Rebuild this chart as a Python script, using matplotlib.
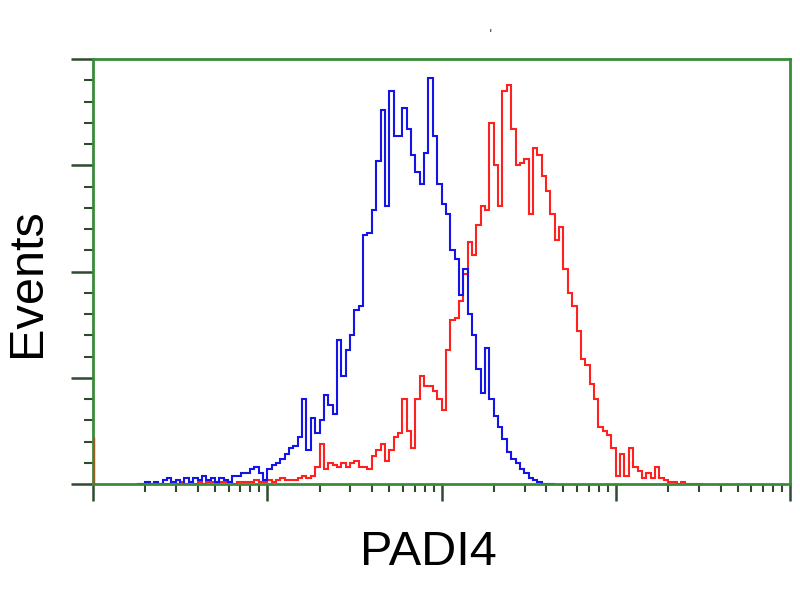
import numpy as np
import matplotlib
matplotlib.use("Agg")
import matplotlib.pyplot as plt
from matplotlib.ticker import LogLocator, MultipleLocator, NullFormatter

# histogram channels: log10 start and width of each bin (1/40 decade)
log_start, log_step = 0.25, 0.025

# counts per channel
blue_counts = [
    0, 0, 1, 0, 1, 0, 2, 3, 1, 2, 0, 3, 1, 3, 2, 4, 2, 3, 1, 3,
    2, 1, 4, 4, 5, 5, 7, 8, 5, 2, 7, 9, 10, 12, 14, 17, 18, 22, 40, 16,
    31, 24, 30, 42, 37, 33, 68, 51, 63, 70, 82, 84, 117, 118, 129, 152, 176, 131, 185, 164,
    164, 177, 167, 155, 147, 141, 156, 191, 164, 141, 132, 127, 110, 106, 89, 101, 80, 70, 54, 43,
    64, 40, 32, 27, 21, 15, 12, 10, 7, 5, 3, 2, 1, 0, 0, 0,
]
red_counts = [
    0, 0, 0, 0, 0, 0, 0, 0, 1, 0, 1, 0, 1, 0, 1, 0, 1, 1, 0, 1,
    1, 1, 0, 1, 1, 1, 1, 2, 1, 1, 2, 1, 2, 3, 2, 2, 2, 3, 4, 3,
    4, 8, 19, 7, 10, 9, 8, 10, 8, 10, 11, 8, 8, 7, 13, 16, 19, 11, 16, 22,
    24, 40, 25, 17, 40, 51, 46, 46, 44, 40, 35, 63, 77, 78, 86, 99, 114, 108, 122, 131,
    129, 170, 150, 131, 185, 188, 167, 150, 151, 153, 127, 158, 155, 145, 138, 127, 115, 121, 101, 90,
    84, 72, 59, 56, 47, 40, 27, 25, 23, 17, 4, 14, 4, 17, 8, 6, 3, 5, 3, 8,
    3, 2, 1, 1, 0, 1, 0, 0, 0, 0,
]
# off-scale events piled in the first channel
first_channel = 22

frame_green = "#3a8a3a"
tick_col = "#2f4a2f"

fig = plt.figure(figsize=(8, 6), dpi=100)
ax = fig.add_axes([93 / 800, 1 - 484 / 600, 697 / 800, 425 / 600])

for counts, col in [(red_counts, "#ff2020"), (blue_counts, "#1414e6")]:
    edges = 10 ** (log_start + log_step * np.arange(len(counts) + 1))
    ax.stairs(counts, edges, color=col, lw=1.5)

ax.vlines(1.0, 0, first_channel, color="#9a5a20", lw=2.5, zorder=3)

ax.set_xscale("log")
ax.set_xlim(1, 1e4)
ax.set_ylim(0, 200)

ax.xaxis.set_major_locator(LogLocator(base=10))
ax.xaxis.set_minor_locator(LogLocator(base=10, subs=np.arange(2, 10)))
ax.yaxis.set_major_locator(MultipleLocator(50))
ax.yaxis.set_minor_locator(MultipleLocator(10))
for axis in (ax.xaxis, ax.yaxis):
    axis.set_major_formatter(NullFormatter())
    axis.set_minor_formatter(NullFormatter())

ax.tick_params(axis="x", which="major", direction="out", length=12, width=1.8, color=tick_col)
ax.tick_params(axis="x", which="minor", direction="out", length=6, width=1.5, color=tick_col)
ax.tick_params(axis="y", which="major", direction="out", length=16, width=1.8, color=tick_col)
ax.tick_params(axis="y", which="minor", direction="out", length=6.5, width=1.5, color=tick_col)

for s in ax.spines.values():
    s.set_color(frame_green)
    s.set_linewidth(2.0)

fig.text(428 / 800, 1 - 565 / 600, "PADI4", fontsize=35, family="Liberation Sans",
         ha="center", va="baseline")
fig.text(28 / 800, 1 - 283 / 600, "Events", fontsize=35, family="Liberation Sans",
         ha="center", va="center", rotation=90)
fig.text(490 / 800, 1 - 38 / 600, "'", fontsize=9, color="#333333", ha="center")

fig.savefig("out.png", dpi=100)
